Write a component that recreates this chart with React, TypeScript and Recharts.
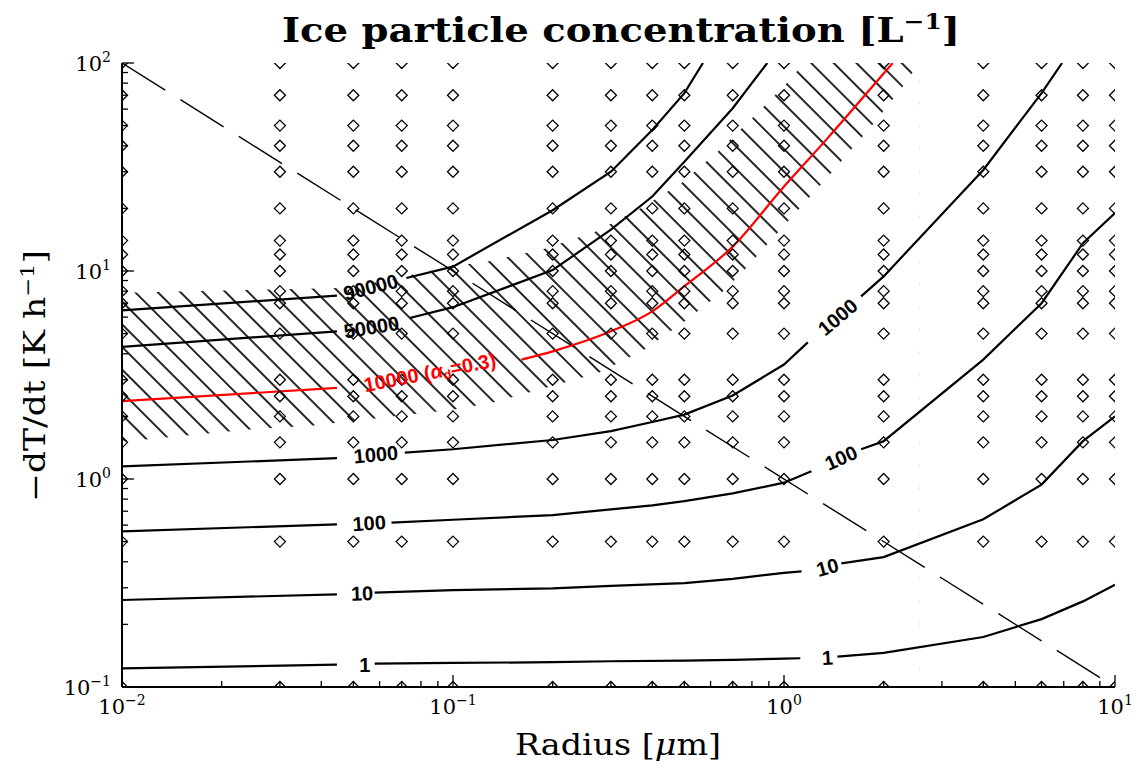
import React from "react";
import { ComposedChart, XAxis, YAxis, Line, Area, Scatter } from "recharts";

const xTicks = [
  0.01, 0.02, 0.03, 0.04, 0.05, 0.06, 0.07, 0.08, 0.09,
  0.1, 0.2, 0.3, 0.4, 0.5, 0.6, 0.7, 0.8, 0.9,
  1, 2, 3, 4, 5, 6, 7, 8, 9, 10,
];
const yTicks = [
  0.1, 0.2, 0.3, 0.4, 0.5, 0.6, 0.7, 0.8, 0.9,
  1, 2, 3, 4, 5, 6, 7, 8, 9,
  10, 20, 30, 40, 50, 60, 70, 80, 90, 100,
];

// model grid (diamonds)
const gridRadius = [0.01, 0.03, 0.05, 0.07, 0.1, 0.2, 0.3, 0.4, 0.5, 0.7, 1, 2, 4, 6, 8, 10];
const gridRate = [0.1, 0.5, 1, 1.5, 2, 2.5, 3, 5, 7, 8, 10, 12, 14, 20, 30, 40, 50, 70, 100];

// contours [radius, -dT/dt], split where the labels sit
const conc1 = [
  [[0.01, 0.123], [0.0446, 0.128]],
  [[0.058, 0.1295], [0.1, 0.1305], [0.2, 0.1316], [0.3, 0.133], [0.5, 0.134], [0.7, 0.135], [1, 0.137], [1.12, 0.1375]],
  [[1.45, 0.14], [2, 0.146], [4, 0.174], [6, 0.212], [8, 0.258], [10, 0.31]],
];
const conc10 = [
  [[0.01, 0.262], [0.0446, 0.279]],
  [[0.058, 0.284], [0.1, 0.292], [0.2, 0.298], [0.3, 0.306], [0.5, 0.316], [0.7, 0.331], [1, 0.354], [1.13, 0.36]],
  [[1.49, 0.393], [2, 0.421], [4, 0.64], [6, 0.94], [8, 1.52], [10, 2.0]],
];
const conc100 = [
  [[0.01, 0.56], [0.0446, 0.605]],
  [[0.0652, 0.617], [0.1, 0.637], [0.2, 0.671], [0.3, 0.714], [0.4, 0.747], [0.5, 0.783], [0.7, 0.853], [1, 0.96], [1.21, 1.09]],
  [[1.71, 1.39], [2, 1.52], [4, 3.75], [6, 7.0], [8, 13.6], [10, 19.0]],
];
const conc1000 = [
  [[0.01, 1.15], [0.0446, 1.26]],
  [[0.0715, 1.34], [0.1, 1.39], [0.2, 1.54], [0.3, 1.7], [0.4, 1.88], [0.5, 2.04], [0.7, 2.52], [1, 3.55], [1.18, 4.54]],
  [[1.71, 7.55], [2, 9.42], [4, 30.6], [6, 71.7], [6.92, 100]],
];
const conc10000 = [
  [[0.01, 2.37], [0.0446, 2.74]],
  [[0.161, 3.75], [0.2, 4.11], [0.3, 5.13], [0.4, 6.4], [0.5, 8.45], [0.7, 13.1], [1, 25.5], [1.34, 42.7], [2, 89], [2.13, 100]],
];
const conc50000 = [
  [[0.01, 4.32], [0.0446, 5.13]],
  [[0.074, 5.94], [0.1, 6.7], [0.2, 10.1], [0.3, 15.8], [0.4, 22.8], [0.5, 33.5], [0.7, 60.6], [0.89, 100]],
];
const conc90000 = [
  [[0.01, 6.47], [0.0446, 7.61]],
  [[0.0723, 9.25], [0.1, 10.5], [0.2, 19.6], [0.3, 30.0], [0.4, 47.6], [0.5, 71.6], [0.569, 100]],
];

// T-dot = 1/r reference
const dashedRef = [[0.01, 100], [10, 0.1]];

// hatched band
const hatchUpper = [
  [0.01, 7.87], [0.0488, 8.31], [0.101, 10.6], [0.127, 11.1], [0.189, 12.8], [0.268, 15.4],
  [0.367, 19.9], [0.49, 26.5], [0.63, 37.4], [0.804, 54.5], [1.02, 80.2], [1.15, 100], [2.56, 100],
];
const hatchLower = [
  [0.01, 1.51], [0.0243, 1.73], [0.0378, 1.81], [0.101, 2.16], [0.132, 2.33], [0.196, 2.78],
  [0.277, 3.25], [0.379, 4.19], [0.5, 5.71], [0.647, 7.87], [0.759, 10.1], [1.02, 17.1],
  [1.38, 29.3], [1.85, 50.4], [2.28, 76.7], [2.56, 100],
];

const labelText = ["1", "10", "100", "1000", "50000", "90000", "1", "10", "100", "1000"];
const labelRadius = [0.0541, 0.0531, 0.0558, 0.0585, 0.0567, 0.0564, 1.352, 1.352, 1.487, 1.453];
const labelRate = [0.1276, 0.2818, 0.614, 1.312, 5.37, 8.36, 0.1384, 0.376, 1.265, 6.0];
const labelAngle = [0, -2, -4, -5, -9, -14, -3, -15, -24, -40];
const redLabel = [{ x: 0.0851, y: 3.25 }];

const SERIF = "'DejaVu Serif', serif";
const SANS = "'Liberation Sans', Arial, sans-serif";

const pts = (seg: number[][]) => seg.map(([x, y]) => ({ x, y }));
const grid = gridRadius.flatMap((x) => gridRate.map((y) => ({ x, y })));
const labels = labelText.map((text, i) => ({ x: labelRadius[i], y: labelRate[i], text, angle: labelAngle[i] }));

const isMajor = (v: number) => Math.abs(Math.log10(v) - Math.round(Math.log10(v))) < 1e-9;
const expo = (v: number) => {
  const e = Math.round(Math.log10(v));
  return e < 0 ? `\u2212${-e}` : `${e}`;
};

const BottomTick = ({ x, y, payload }: any) => {
  const major = isMajor(payload.value);
  return (
    <g>
      <line x1={x} x2={x} y1={y} y2={y - (major ? 12 : 6)} stroke="#000" strokeWidth={1.3} />
      {major && (
        <text x={x} y={y + 27} textAnchor="middle" fontFamily={SERIF} fontSize={21} fill="#000">
          10<tspan dy={-9} fontSize={14}>{expo(payload.value)}</tspan>
        </text>
      )}
    </g>
  );
};

const LeftTick = ({ x, y, payload }: any) => {
  const major = isMajor(payload.value);
  return (
    <g>
      <line x1={x} x2={x + (major ? 12 : 6)} y1={y} y2={y} stroke="#000" strokeWidth={1.3} />
      {major && (
        <text x={x - 11} y={y + 8} textAnchor="end" fontFamily={SERIF} fontSize={21} fill="#000">
          10<tspan dy={-9} fontSize={14}>{expo(payload.value)}</tspan>
        </text>
      )}
    </g>
  );
};

const TopTick = ({ x, y, payload }: any) => (
  <line x1={x} x2={x} y1={y} y2={y + (isMajor(payload.value) ? 12 : 6)} stroke="#000" strokeWidth={1.3} />
);

const RightTick = ({ x, y, payload }: any) => (
  <line x1={x} x2={x - (isMajor(payload.value) ? 12 : 6)} y1={y} y2={y} stroke="#000" strokeWidth={1.3} />
);

const Diamond = ({ cx, cy }: any) => {
  const s = 5.5;
  return (
    <polygon
      points={`${cx},${cy - s} ${cx + s},${cy} ${cx},${cy + s} ${cx - s},${cy}`}
      fill="none"
      stroke="#000"
      strokeWidth={1.3}
    />
  );
};

const ContourLabel = ({ cx, cy, payload }: any) => (
  <text
    x={cx}
    y={cy}
    transform={`rotate(${payload.angle} ${cx} ${cy})`}
    textAnchor="middle"
    dominantBaseline="central"
    fontFamily={SANS}
    fontWeight="bold"
    fontSize={20}
    fill="#000"
  >
    {payload.text}
  </text>
);

const RedLabel = ({ cx, cy }: any) => (
  <text
    x={cx}
    y={cy}
    transform={`rotate(-11 ${cx} ${cy})`}
    textAnchor="middle"
    dominantBaseline="central"
    fontFamily={SANS}
    fontWeight="bold"
    fontSize={20}
    fill="#ff0000"
  >
    10000 (<tspan fontStyle="italic">α</tspan>
    <tspan dy={5} fontSize={13}>d</tspan>
    <tspan dy={-5}>=0.3)</tspan>
  </text>
);

const axisCommon = {
  type: "number" as const,
  scale: "log" as const,
  allowDataOverflow: true,
  interval: 0 as const,
  tickLine: false,
  tickSize: 0,
  tickMargin: 0,
  axisLine: { stroke: "#000", strokeWidth: 2 },
};

export default function App() {
  const contour = (segs: number[][][], color: string, key: string, curve: "linear" | "monotone" = "linear") =>
    segs.map((seg, i) => (
      <Line
        key={`${key}-${i}`}
        data={pts(seg)}
        dataKey="y"
        xAxisId="b"
        yAxisId="l"
        type={curve}
        stroke={color}
        strokeWidth={2.2}
        dot={false}
        activeDot={false}
        isAnimationActive={false}
      />
    ));

  return (
    <div style={{ position: "relative", width: 1124, height: 761, marginBottom: -8 }}>
      <ComposedChart width={1124} height={753} margin={{ top: 55, right: 17, bottom: 0, left: 0 }}>
        <defs>
          <pattern id="hatch" patternUnits="userSpaceOnUse" width="16" height="16" patternTransform="rotate(-45)">
            <line x1="1" y1="-1" x2="1" y2="17" stroke="#000" strokeWidth="1.7" />
          </pattern>
        </defs>
        <XAxis {...axisCommon} xAxisId="b" dataKey="x" domain={[0.01, 10]} ticks={xTicks} height={74} tick={<BottomTick />} />
        <XAxis {...axisCommon} xAxisId="t" dataKey="x" orientation="top" domain={[0.01, 10]} ticks={xTicks} height={0} tick={<TopTick />} />
        <YAxis {...axisCommon} yAxisId="l" dataKey="y" domain={[0.1, 100]} ticks={yTicks} width={114} tick={<LeftTick />} />
        <YAxis {...axisCommon} yAxisId="r" dataKey="y" orientation="right" domain={[0.1, 100]} ticks={yTicks} width={0} tick={<RightTick />} />

        <Area
          data={pts(hatchUpper)}
          dataKey="y"
          xAxisId="b"
          yAxisId="l"
          type="linear"
          baseValue={0.1}
          fill="url(#hatch)"
          fillOpacity={1}
          stroke="none"
          isAnimationActive={false}
          activeDot={false}
        />
        <Area
          data={pts(hatchLower)}
          dataKey="y"
          xAxisId="b"
          yAxisId="l"
          type="linear"
          baseValue={0.1}
          fill="#fff"
          fillOpacity={1}
          stroke="none"
          isAnimationActive={false}
          activeDot={false}
        />

        <Line
          data={pts(dashedRef)}
          dataKey="y"
          xAxisId="b"
          yAxisId="l"
          type="linear"
          stroke="#000"
          strokeWidth={1.4}
          strokeDasharray="51 18"
          dot={false}
          activeDot={false}
          isAnimationActive={false}
        />

        {contour(conc1, "#000", "c1")}
        {contour(conc10, "#000", "c10")}
        {contour(conc100, "#000", "c100")}
        {contour(conc1000, "#000", "c1000")}
        {contour(conc50000, "#000", "c50000")}
        {contour(conc90000, "#000", "c90000")}
        {contour(conc10000, "#ff0000", "c10000", "monotone")}

        <Scatter data={grid} xAxisId="t" yAxisId="r" shape={<Diamond />} isAnimationActive={false} />
        <Scatter data={labels} xAxisId="b" yAxisId="l" shape={<ContourLabel />} isAnimationActive={false} />
        <Scatter data={redLabel} xAxisId="b" yAxisId="l" shape={<RedLabel />} isAnimationActive={false} />
      </ComposedChart>

      <svg
        width={1124}
        height={761}
        style={{ position: "absolute", left: 0, top: 0, overflow: "visible", pointerEvents: "none" }}
      >
        <text
          x={613}
          y={34}
          textAnchor="middle"
          fontFamily={SERIF}
          fontWeight="bold"
          fontSize={34}
          textLength={678}
          lengthAdjust="spacingAndGlyphs"
          fill="#000"
        >
          Ice particle concentration [L<tspan dy={-13} fontSize={22}>−1</tspan>
          <tspan dy={13}>]</tspan>
        </text>
        <text
          x={507}
          y={747}
          fontFamily={SERIF}
          fontSize={29}
          textLength={206}
          lengthAdjust="spacingAndGlyphs"
          fill="#000"
        >
          Radius [<tspan fontStyle="italic">μ</tspan>m]
        </text>
        <text
          x={37}
          y={494}
          transform="rotate(-90 37 494)"
          fontFamily={SERIF}
          fontSize={29}
          textLength={252}
          lengthAdjust="spacingAndGlyphs"
          fill="#000"
        >
          −dT/dt [K h<tspan dy={-11} fontSize={19}>−1</tspan>
          <tspan dy={11}>]</tspan>
        </text>
      </svg>
    </div>
  );
}
